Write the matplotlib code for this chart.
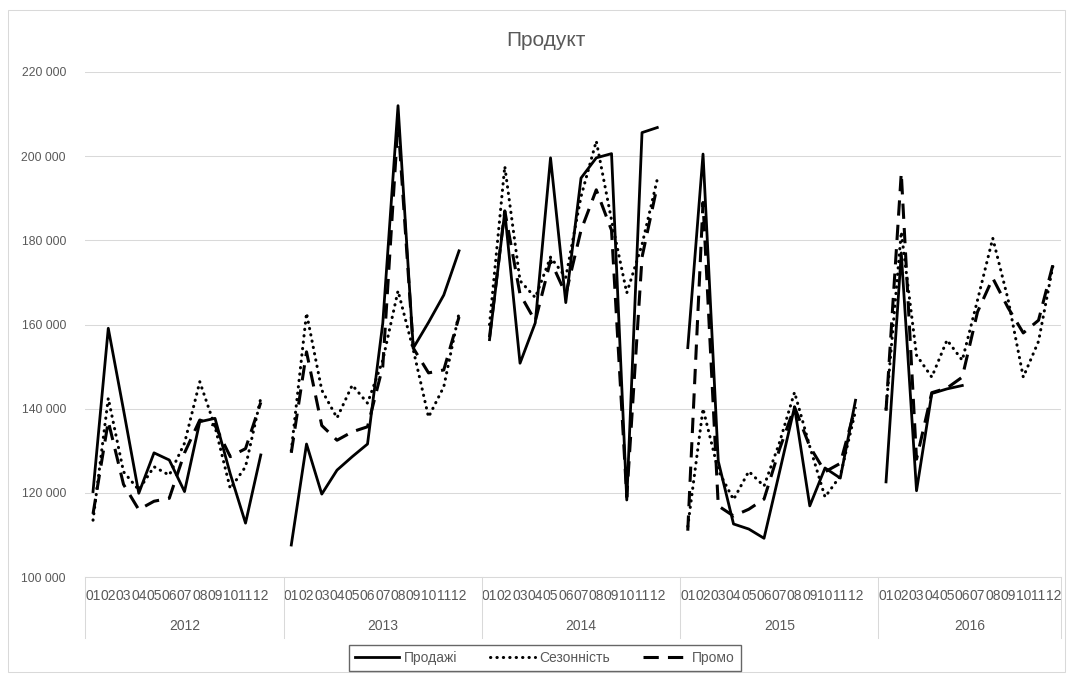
import numpy as np
import matplotlib
matplotlib.use('Agg')
import matplotlib.pyplot as plt
from matplotlib import transforms
from matplotlib.patches import Rectangle

plt.rcParams['font.family'] = ['Liberation Sans', 'DejaVu Sans']

years = ['2012', '2013', '2014', '2015', '2016']
months = ['01', '02', '03', '04', '05', '06', '07', '08', '09', '10', '11', '12']

# values in thousands, one list per year
sales = [
    [120.3, 159.1, 139.7, 119.9, 129.5, 127.8, 120.3, 136.9, 137.7, 124.5, 112.8, 129.0],
    [107.6, 131.6, 119.7, 125.4, 128.6, 131.6, 160.3, 212.0, 154.4, 160.5, 167.0, 177.5],
    [156.4, 186.8, 150.8, 160.4, 199.6, 165.2, 194.8, 199.6, 200.6, 118.3, 205.6, 206.8],
    [154.5, 200.5, 127.5, 112.6, 111.4, 109.2, 124.7, 140.4, 116.9, 125.9, 123.5, 142.0],
    [122.6, 177.0, 120.5, 143.6, 144.7, 145.5],
]
season = [
    [113.5, 142.5, 125.0, 120.7, 126.2, 124.2, 131.8, 146.4, 135.7, 121.0, 126.2, 142.5],
    [130.0, 162.7, 144.4, 137.8, 145.6, 141.3, 151.5, 168.0, 154.0, 138.0, 145.2, 162.7],
    [160.0, 197.6, 170.4, 166.4, 176.0, 171.2, 190.4, 203.6, 184.8, 167.5, 179.0, 194.5],
    [112.0, 140.0, 125.3, 118.4, 125.1, 121.6, 131.8, 143.9, 131.0, 119.0, 124.0, 139.5],
    [140.0, 182.0, 152.7, 147.5, 156.3, 151.5, 165.8, 180.5, 166.0, 147.5, 156.0, 175.0],
]
promo = [
    [115.0, 137.0, 122.0, 116.0, 118.0, 118.7, 129.5, 137.3, 136.0, 128.6, 130.5, 141.5],
    [129.5, 153.5, 136.0, 132.5, 134.5, 135.7, 150.0, 208.0, 154.4, 148.5, 149.2, 161.8],
    [157.0, 187.0, 167.2, 160.8, 175.2, 167.2, 182.4, 192.0, 182.4, 119.0, 176.0, 193.0],
    [111.0, 189.0, 116.9, 114.5, 116.1, 118.5, 130.2, 140.4, 131.0, 125.0, 127.0, 140.4],
    [139.5, 196.0, 128.0, 143.8, 144.9, 147.5, 163.0, 171.0, 164.0, 158.0, 161.0, 175.0],
]
series_names = ['Продажі', 'Сезонність', 'Промо']


def flatten(rows):
    # 12 months per year + one empty category between years
    out = []
    for i, r in enumerate(rows):
        out += list(r) + [np.nan] * (12 - len(r))
        if i < len(rows) - 1:
            out.append(np.nan)
    return np.array(out, dtype=float) * 1000


grey = '#595959'
light = '#d9d9d9'

fig = plt.figure(figsize=(10.7, 6.78), dpi=100)
ax = fig.add_axes([85.4 / 1070, 1 - 577 / 678, 976 / 1070, 505 / 678])

x = np.arange(64)
ax.plot(x, flatten(sales), color='black', lw=2.0, label=series_names[0])
ax.plot(x, flatten(season), color='black', lw=2.2, ls=(0, (0.1, 2.0)),
        dash_capstyle='round', label=series_names[1])
ax.plot(x, flatten(promo), color='black', lw=2.2, ls=(0, (5, 3)),
        dash_capstyle='butt', label=series_names[2])

ax.set_xlim(-0.5, 63.5)
ax.set_ylim(100000, 220000)
yt = np.arange(100000, 220001, 20000)
ax.set_yticks(yt)
ax.set_yticklabels([f'{v:,.0f}'.replace(',', ' ') for v in yt])
ax.grid(axis='y', color=light, lw=0.75)
ax.set_axisbelow(True)

pos = [13 * i + m for i in range(5) for m in range(12)]
ax.set_xticks(pos)
ax.set_xticklabels(months * 5)
ax.tick_params(axis='x', length=0, pad=9, labelsize=10, colors=grey)
ax.tick_params(axis='y', length=0, pad=14, labelsize=8.7, colors=grey)

for s in ['top', 'right', 'left']:
    ax.spines[s].set_visible(False)
ax.spines['bottom'].set_color(light)
ax.spines['bottom'].set_linewidth(0.75)

trans = transforms.blended_transform_factory(ax.transData, ax.transAxes)
seps = [-0.5 + 13 * i for i in range(5)] + [63.5]
for sx in seps:
    ax.plot([sx, sx], [0, -0.12], transform=trans, color=light, lw=0.75, clip_on=False)
for i, yr in enumerate(years):
    cx = (seps[i] + seps[i + 1]) / 2
    ax.text(cx, -0.097, yr, transform=trans, ha='center', va='center',
            fontsize=10, color=grey)

fig.text(0.51, 1 - 40 / 678, 'Продукт', ha='center', va='center', fontsize=15, color=grey)

leg = fig.legend(loc='center', bbox_to_anchor=(0.509, 1 - 658 / 678), ncol=3,
                 frameon=True, fancybox=False, fontsize=10, handlelength=3.2,
                 columnspacing=2.4, handletextpad=0.3, borderpad=0.45)
leg.get_frame().set_edgecolor('#404040')
leg.get_frame().set_linewidth(1.0)
for t in leg.get_texts():
    t.set_color(grey)

fig.patches.append(Rectangle((8 / 1070, 1 - 672 / 678), 1057 / 1070, 662 / 678,
                             transform=fig.transFigure, fill=False,
                             edgecolor=light, lw=0.75))

fig.savefig('out.png', dpi=100)
